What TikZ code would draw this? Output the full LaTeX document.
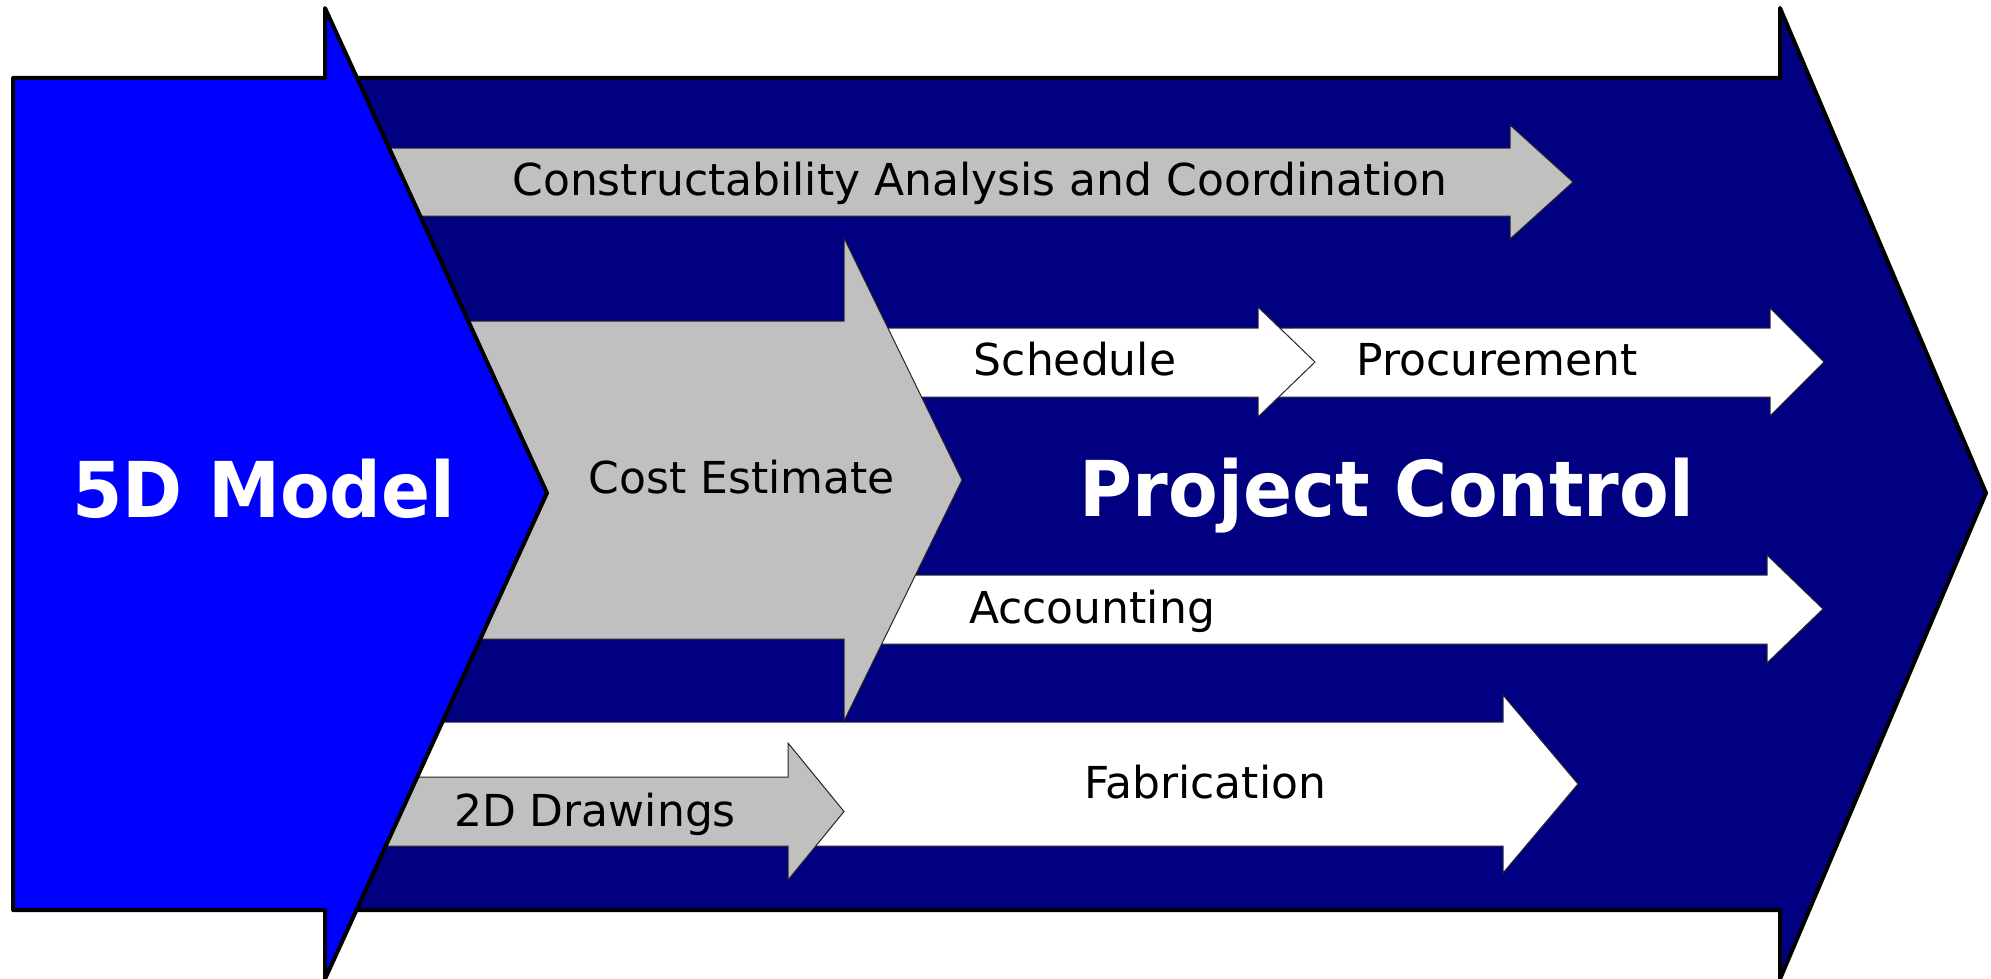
\documentclass[tikz,border=0pt]{standalone}
\usepackage{fontspec}
\setmainfont{DejaVu Sans}
\definecolor{navy}{HTML}{000080}
\definecolor{brightblue}{HTML}{0000FF}
\definecolor{silver}{HTML}{C0C0C0}
\tikzset{
  bigarrow/.style={draw=black, line width=2pt, line join=round},
  subarrow/.style={draw=black!85, line width=0.5pt},
  lbl/.style={font=\fontsize{22}{26}\selectfont, anchor=base, inner sep=0pt, text=black},
  ttl/.style={font=\fontsize{38.5}{46}\selectfont\bfseries, anchor=base, inner sep=0pt, text=white}
}
\newcommand{\narrowtxt}[1]{\scalebox{0.94}[1]{#1}}
\begin{document}
\begin{tikzpicture}[x=0.5pt,y=-0.5pt]
\useasboundingbox (0,0) rectangle (1991,979);
\fill[white] (0,0) rectangle (1991,979);
% Project Control big arrow
\draw[bigarrow, fill=navy] (330,78) -- (1780,78) -- (1780,8) -- (1986,493) -- (1780,979) -- (1780,910) -- (330,910) -- cycle;
% Constructability
\draw[subarrow, fill=silver] (330,148) -- (1510,148) -- (1510,125) -- (1573,182) -- (1510,239) -- (1510,216) -- (330,216) -- cycle;
% Fabrication
\draw[subarrow, fill=white] (330,722) -- (1503,722) -- (1503,695) -- (1578,784) -- (1503,873) -- (1503,846) -- (330,846) -- cycle;
% 2D Drawings
\draw[subarrow, fill=silver] (330,777) -- (788,777) -- (788,743) -- (844,811.5) -- (788,880) -- (788,846) -- (330,846) -- cycle;
% Procurement
\draw[subarrow, fill=white] (1250,328) -- (1770,328) -- (1770,308) -- (1824,362) -- (1770,416) -- (1770,397) -- (1250,397) -- cycle;
% Schedule
\draw[subarrow, fill=white] (850,328) -- (1258,328) -- (1258,307) -- (1315,362) -- (1258,417) -- (1258,397) -- (850,397) -- cycle;
% Accounting
\draw[subarrow, fill=white] (850,575) -- (1767,575) -- (1767,555) -- (1823,609) -- (1767,663) -- (1767,644) -- (850,644) -- cycle;
% Cost Estimate
\draw[subarrow, fill=silver] (330,321) -- (844,321) -- (844,238) -- (962,480) -- (844,721) -- (844,639) -- (330,639) -- cycle;
% 5D Model arrow
\draw[bigarrow, fill=brightblue] (13,78) -- (325,78) -- (325,8) -- (547,493) -- (325,979) -- (325,910) -- (13,910) -- cycle;
% texts
\node[lbl] (tCAC) at (980,195) {Constructability Analysis and Coordination};
\node[lbl] (tCost) at (742,493) {Cost Estimate};
\node[lbl] (tSched) at (1075,375) {Schedule};
\node[lbl] (tProc) at (1497,375) {Procurement};
\node[lbl] (tAcc) at (1092,623) {Accounting};
\node[lbl] (tFab) at (1205,798) {Fabrication};
\node[lbl] (t2D) at (595,826) {2D Drawings};
\node[ttl] (t5D) at (264,517) {\narrowtxt{5D Model}};
\node[ttl] (tPC) at (1387,516) {\narrowtxt{Project Control}};
\end{tikzpicture}
\end{document}
